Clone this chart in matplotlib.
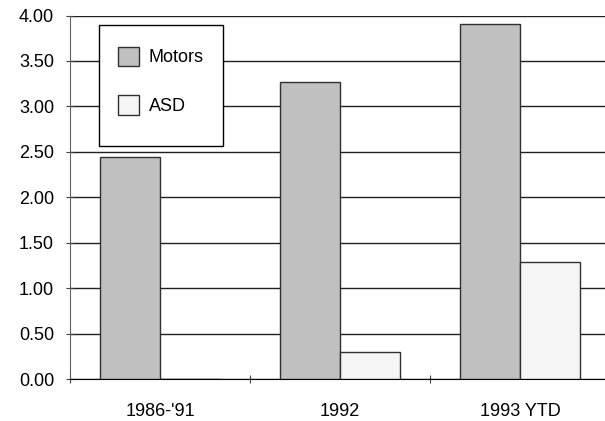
import matplotlib
matplotlib.use("Agg")
import matplotlib.pyplot as plt
from matplotlib.patches import Rectangle
import numpy as np

categories = ["1986-'91", "1992", "1993 YTD"]
motors = [2.44, 3.27, 3.91]
asd = [0.0, 0.30, 1.29]
yticks = [0.0, 0.5, 1.0, 1.5, 2.0, 2.5, 3.0, 3.5, 4.0]

plt.rcParams['font.family'] = ['Liberation Sans', 'DejaVu Sans']
FS = 13

W, H = 605, 421
fig = plt.figure(figsize=(W / 100, H / 100), dpi=100)
ax = fig.add_axes([70 / W, (H - 379) / H, 540 / W, 363.5 / H])

x = np.arange(len(categories))
bw = 1 / 3
ax.bar(x - bw / 2, motors, width=bw, color='#c0c0c0', edgecolor='#303030', linewidth=1, label='Motors', zorder=3)
ax.bar(x + bw / 2, asd, width=bw, color='#f5f5f5', edgecolor='#303030', linewidth=1, label='ASD', zorder=3)

ax.set_xlim(-0.5, len(categories) - 0.5)
ax.set_ylim(0, 4.0)
ax.set_yticks(yticks)
ax.set_yticklabels([f"{v:.2f}" for v in yticks], fontsize=FS)
ax.yaxis.grid(True, color='#202020', linewidth=1)
ax.set_axisbelow(True)

ax.set_xticks(np.arange(len(categories) + 1) - 0.5)
ax.set_xticklabels([])
ax.set_xticks(x, minor=True)
ax.set_xticklabels(categories, minor=True, fontsize=FS)
ax.tick_params(axis='x', which='minor', length=0, pad=17.5)
ax.tick_params(axis='x', which='major', direction='inout', length=6, color='#404040')
ax.tick_params(axis='y', direction='inout', length=6, color='#404040', pad=8.5)

for s in ['top', 'right']:
    ax.spines[s].set_visible(False)
ax.spines['left'].set_color('#606060')
ax.spines['bottom'].set_color('#000000')

# legend frame box
frame = Rectangle((99 / W, (H - 146) / H), 124 / W, 121 / H, transform=fig.transFigure,
                  facecolor='white', edgecolor='#000000', linewidth=1, zorder=4, clip_on=False)
ax.add_patch(frame)

leg = ax.legend(loc='upper left', bbox_to_anchor=(117.5 / W, (H - 46.5) / H), bbox_transform=fig.transFigure,
                fontsize=FS, frameon=False,
                handlelength=1.17, handleheight=1.3, labelspacing=1.6, borderpad=0,
                handletextpad=0.57, borderaxespad=0)
leg.set_zorder(5)
for p in leg.get_patches():
    p.set_edgecolor('#303030')

fig.savefig('out.png', dpi=100)
